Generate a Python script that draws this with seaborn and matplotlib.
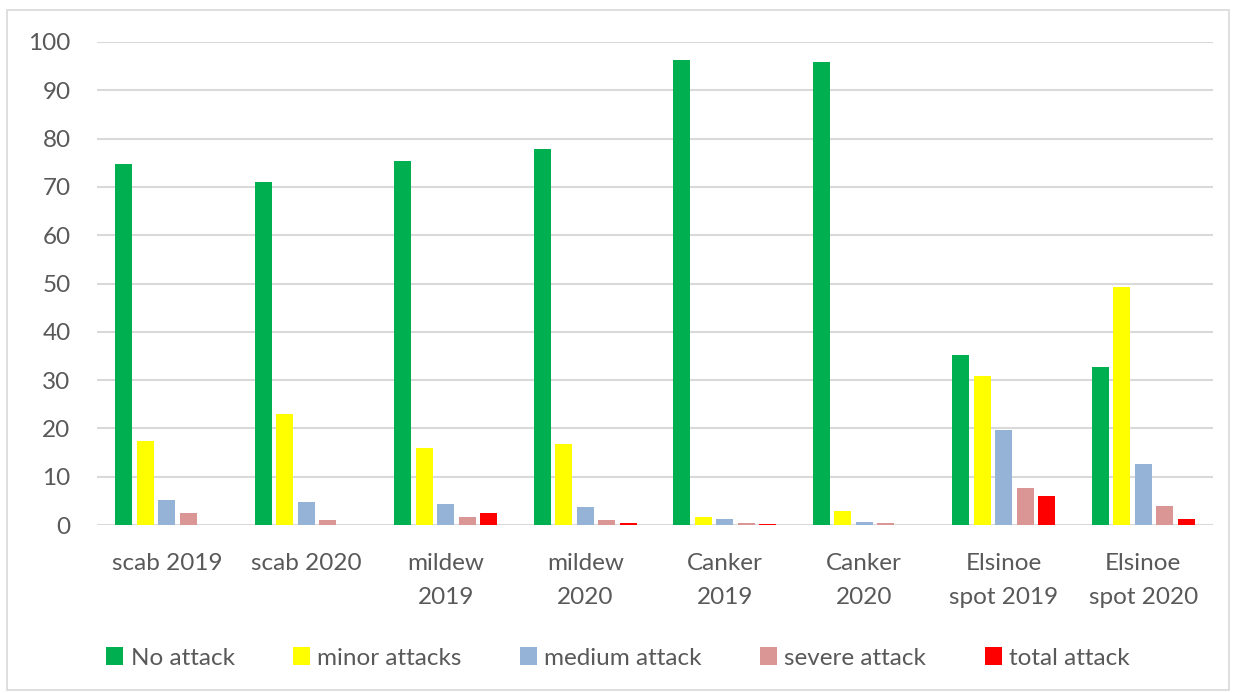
import matplotlib
matplotlib.use("Agg")
import matplotlib.pyplot as plt
import seaborn as sns
import pandas as pd
from matplotlib.patches import Rectangle, Patch

categories = ["scab 2019", "scab 2020", "mildew\n2019", "mildew\n2020",
              "Canker\n2019", "Canker\n2020", "Elsinoe\nspot 2019", "Elsinoe\nspot 2020"]
series = ["No attack", "minor attacks", "medium attack", "severe attack", "total attack"]
no_attack = [74.8, 71.0, 75.3, 77.8, 96.3, 95.9, 35.3, 32.8]
minor_attacks = [17.4, 23.0, 16.0, 16.8, 1.65, 2.9, 30.8, 49.2]
medium_attack = [5.2, 4.7, 4.4, 3.8, 1.2, 0.7, 19.6, 12.6]
severe_attack = [2.4, 1.0, 1.65, 1.0, 0.5, 0.35, 7.7, 3.9]
total_attack = [0.0, 0.0, 2.4, 0.35, 0.2, 0.0, 6.1, 1.2]
colors = ["#00B050", "#FFFF00", "#95B3D7", "#DA9694", "#FF0000"]
yticks = list(range(0, 101, 10))

values = [no_attack, minor_attacks, medium_attack, severe_attack, total_attack]
rows = []
for s, vals in zip(series, values):
    for c, v in zip(categories, vals):
        rows.append({"category": c, "series": s, "value": v})
df = pd.DataFrame(rows)

sns.set_theme(style="white")
plt.rcParams["font.family"] = ["Lato", "DejaVu Sans"]
text_color = "#595959"
fs = 17.5

fig = plt.figure(figsize=(12.36, 6.93), dpi=100)
ax = fig.add_axes([97/1236, 1-525/693, (1213-97)/1236, (525-42)/693])

sns.barplot(data=df, x="category", y="value", hue="series", order=categories,
            hue_order=series, palette=colors, saturation=1, width=0.77, gap=0.2,
            edgecolor="none", ax=ax, legend=False, errorbar=None, zorder=3)

ax.set_ylim(0, 100)
ax.set_xlim(-0.5, len(categories) - 0.5)
ax.set_yticks(yticks)
ax.set_yticklabels([str(t) for t in yticks], color=text_color, fontsize=fs)
ax.tick_params(axis="x", colors=text_color, labelsize=fs, length=0, pad=20)
ax.tick_params(axis="y", length=0, pad=19)
for lab in ax.get_xticklabels():
    lab.set_linespacing(1.75)
ax.yaxis.grid(True, color="#D9D9D9", linewidth=1.5, zorder=0)
ax.set_axisbelow(True)
for sp in ax.spines.values():
    sp.set_visible(False)
ax.set_xlabel("")
ax.set_ylabel("")

handles = [Patch(facecolor=c, edgecolor="none") for c in colors]
fig.legend(handles, series, loc="center", bbox_to_anchor=(0.5, 1-658/693), ncol=5,
           frameon=False, handlelength=0.7, handleheight=0.7, handletextpad=0.3,
           columnspacing=2.4, prop={"size": fs}, labelcolor=text_color)

fig.patches.append(Rectangle((7/1236, 3/693), 1222/1236, 680/693, transform=fig.transFigure,
                             fill=False, edgecolor="#D9D9D9", linewidth=1.2))

fig.savefig("out.png", dpi=100)
